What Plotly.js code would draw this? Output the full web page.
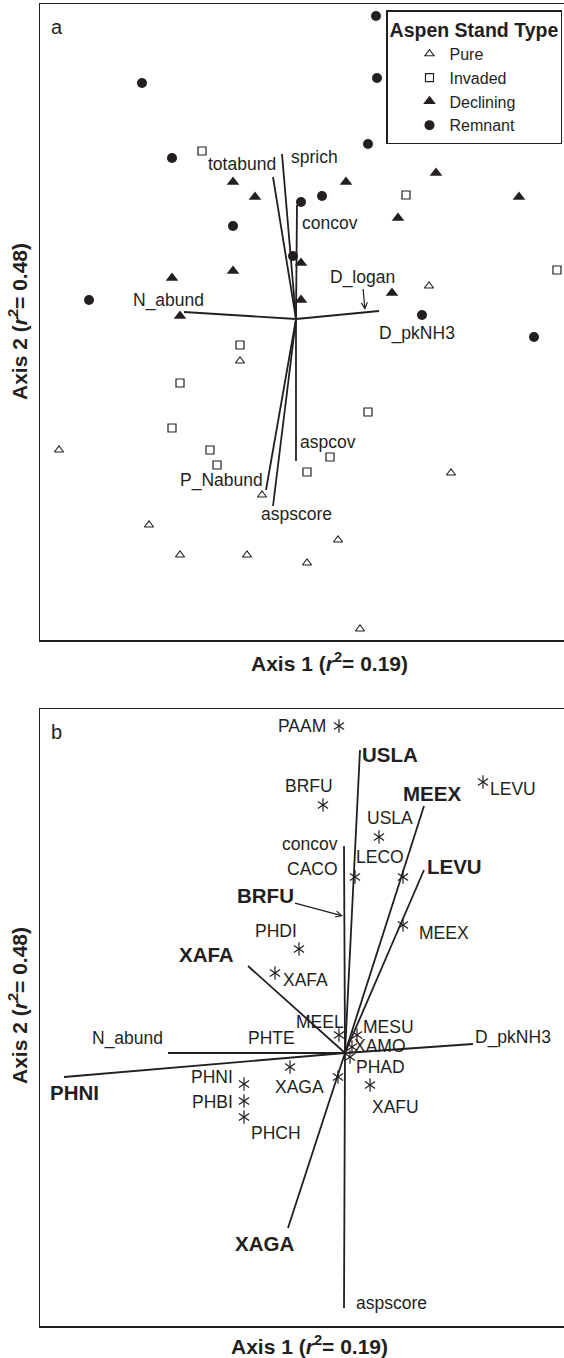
<!DOCTYPE html>
<html><head><meta charset="utf-8">
<script src="https://cdn.plot.ly/plotly-3.0.1.min.js"></script>
<style>html,body{margin:0;padding:0;overflow:hidden;background:#fff}#chart{width:640px;height:1358px}</style>
</head><body><div id="chart"></div>
<script>
// ---------- Panel a: stand scores ----------
const pureX = [1.33, -0.56, -2.37, 1.55, -0.34, -1.47, 0.42, -1.16, -0.49, 0.11, 0.64];
const pureY = [0.33, -0.42, -1.31, -1.54, -1.76, -2.06, -2.21, -2.36, -2.36, -2.44, -3.10];
const invadedX = [-0.94, 1.10, 2.61, -0.56, -1.16, 0.72, -1.24, -0.86, -0.79, 0.34, 0.11];
const invadedY = [1.68, 1.24, 0.49, -0.26, -0.64, -0.93, -1.09, -1.31, -1.46, -1.38, -1.53];
const decliningX = [-0.63, -0.41, 0.50, 1.40, 2.23, 1.02, -0.63, -1.24, -1.16, 0.05, 0.05, 0.96];
const decliningY = [1.37, 1.22, 1.37, 1.46, 1.22, 1.01, 0.48, 0.41, 0.03, 0.56, 0.19, 0.26];
const remnantX = [-1.54, -1.24, 0.80, 0.81, 0.72, 0.26, 0.05, -0.63, -0.03, -2.07, 1.26, 2.38];
const remnantY = [2.36, 1.61, 3.03, 2.41, 1.75, 1.23, 1.17, 0.93, 0.63, 0.19, 0.04, -0.18];
const groupNames = ['Pure', 'Invaded', 'Declining', 'Remnant'];

// Panel a: environmental vectors (tips; origin = 0,0)
const envA = ['sprich', 'totabund', 'concov', 'N_abund', 'D_pkNH3', 'aspcov', 'P_Nabund', 'aspscore'];
const envAX = [-0.14, -0.23, 0.01, -1.12, 0.83, 0.00, -0.30, -0.23];
const envAY = [1.65, 1.42, 1.14, 0.07, 0.08, -1.42, -1.71, -1.87];
const dLoganX = 0.69, dLoganY = 0.09;

// ---------- Panel b: species ----------
const vecB = ['USLA', 'MEEX', 'LEVU', 'XAFA', 'PHNI', 'XAGA', 'concov', 'N_abund', 'D_pkNH3', 'aspscore'];
const vecBX = [0.15, 0.79, 0.79, -0.97, -2.81, -0.57, -0.01, -1.77, 1.28, -0.01];
const vecBY = [3.03, 2.47, 1.83, 0.87, -0.24, -1.75, 2.07, 0.00, 0.09, -2.55];
const brfuX = -0.02, brfuY = 1.37;

const species = ['PAAM', 'BRFU', 'LEVU', 'USLA', 'CACO', 'LECO', 'PHDI', 'XAFA', 'MEEX', 'MEEL',
                 'MESU', 'XAMO', 'PHTE', 'PHNI', 'PHBI', 'PHCH', 'XAGA', 'PHAD', 'XAFU'];
const speciesX = [-0.06, -0.22, 1.38, 0.34, 0.10, 0.58, -0.46, -0.70, 0.58, -0.06,
                  0.12, 0.07, -0.55, -1.01, -1.01, -1.01, -0.07, 0.05, 0.25];
const speciesY = [3.27, 2.48, 2.71, 2.16, 1.76, 1.76, 1.04, 0.80, 1.28, 0.18,
                  0.18, 0.06, -0.14, -0.31, -0.48, -0.64, -0.24, -0.04, -0.32];

// ---------- layout / style (positions of labels in px) ----------
const W = 640, H = 1358;
const INK = '#231f20';
const FONT = 'Liberation Sans, Arial, Helvetica, sans-serif';
const envAOff = [[32, -3], [-31, 13], [33, -18], [-16, 12], [38, -22], [32, 19], [-45, 10], [23, -8]];
const vecBBold = [1, 1, 1, 1, 1, 1, 0, 0, 0, 0];
const vecBOff = [[30, -4], [8, 13], [30, 4], [-42, 12], [10, -15], [-24, -15], [-34, 2], [-41, 15], [40, 7], [47, 5]];
const speciesOff = [[-37, 0], [-14, 19], [30, -7], [11, 19], [-43, 8], [-23, 20], [-23, 18], [30, -7], [41, -8], [-19, 13],
                    [31, 8], [28, 1], [-19, 29], [-32, 7], [-32, -1], [32, -16], [-39, -10], [30, -10], [25, -22]];

function vecLines(xs, ys) {
  const x = [], y = [];
  xs.forEach((v, i) => { x.push(0, v, null); y.push(0, ys[i], null); });
  return {x, y};
}
const la = vecLines(envAX, envAY);
const lb = vecLines(vecBX, vecBY);

const traces = [
  {type: 'scatter', mode: 'markers', name: groupNames[0], x: pureX, y: pureY, xaxis: 'x', yaxis: 'y',
   marker: {symbol: 'triangle-up-open', size: 8, color: INK, line: {width: 1.1, color: INK}}},
  {type: 'scatter', mode: 'markers', name: groupNames[1], x: invadedX, y: invadedY, xaxis: 'x', yaxis: 'y',
   marker: {symbol: 'square-open', size: 8, color: INK, line: {width: 1.2, color: INK}}},
  {type: 'scatter', mode: 'markers', name: groupNames[2], x: decliningX, y: decliningY, xaxis: 'x', yaxis: 'y',
   marker: {symbol: 'triangle-up', size: 11, color: INK}},
  {type: 'scatter', mode: 'markers', name: groupNames[3], x: remnantX, y: remnantY, xaxis: 'x', yaxis: 'y',
   marker: {symbol: 'circle', size: 10, color: INK}},
  {type: 'scatter', mode: 'lines', x: la.x, y: la.y, xaxis: 'x', yaxis: 'y', showlegend: false,
   line: {color: INK, width: 1.8}, hoverinfo: 'skip'},
  {type: 'scatter', mode: 'lines', x: lb.x, y: lb.y, xaxis: 'x2', yaxis: 'y2', showlegend: false,
   line: {color: INK, width: 1.8}, hoverinfo: 'skip'},
  {type: 'scatter', mode: 'markers', x: speciesX, y: speciesY, xaxis: 'x2', yaxis: 'y2', showlegend: false,
   marker: {symbol: 'y-up-open', size: 8.5, color: INK, line: {width: 1.2, color: INK}}, text: species},
  {type: 'scatter', mode: 'markers', x: speciesX, y: speciesY, xaxis: 'x2', yaxis: 'y2', showlegend: false,
   marker: {symbol: 'y-down-open', size: 8.5, color: INK, line: {width: 1.2, color: INK}}, text: species}
];

const regFont = {family: FONT, size: 17.5, color: INK};
const boldFont = {family: FONT, size: 20.5, color: INK, weight: 'bold'};
const ann = [];
envA.forEach((t, i) => ann.push({x: envAX[i], y: envAY[i], xref: 'x', yref: 'y', text: t, showarrow: false,
  xshift: envAOff[i][0], yshift: envAOff[i][1], font: regFont}));
ann.push({x: dLoganX, y: dLoganY, xref: 'x', yref: 'y', text: 'D_logan', showarrow: true,
  ax: -3, ay: -33, arrowhead: 5, arrowsize: 1, arrowwidth: 1.2, arrowcolor: INK, font: regFont});
vecB.forEach((t, i) => ann.push({x: vecBX[i], y: vecBY[i], xref: 'x2', yref: 'y2', text: t, showarrow: false,
  xshift: vecBOff[i][0], yshift: vecBOff[i][1], font: vecBBold[i] ? boldFont : regFont}));
ann.push({x: brfuX, y: brfuY, xref: 'x2', yref: 'y2', text: 'BRFU', showarrow: true,
  ax: -78, ay: -21, arrowhead: 5, arrowsize: 1, arrowwidth: 1.2, arrowcolor: INK, font: boldFont});
species.forEach((t, i) => ann.push({x: speciesX[i], y: speciesY[i], xref: 'x2', yref: 'y2', text: t, showarrow: false,
  xshift: speciesOff[i][0], yshift: speciesOff[i][1], font: regFont}));

// panel letters and axis titles
const titleFont = {family: FONT, size: 21, color: INK, weight: 'bold'};
function pap(px, py) { return {x: px / W, y: 1 - py / H, xref: 'paper', yref: 'paper', xanchor: 'center', yanchor: 'middle', showarrow: false}; }
const letterFont = {family: FONT, size: 20, color: INK};
ann.push(Object.assign(pap(49, 27), {text: 'a', xanchor: 'left', font: letterFont}));
ann.push(Object.assign(pap(49, 732), {text: 'b', xanchor: 'left', font: letterFont}));
const xTitle = 'Axis 1 (<i>r</i><sup>2</sup>= 0.19)';
const yTitle = 'Axis 2 (<i>r</i><sup>2</sup>= 0.48)';
ann.push(Object.assign(pap(329, 662), {text: xTitle, font: titleFont}));
ann.push(Object.assign(pap(309, 1345), {text: xTitle, font: titleFont}));
ann.push(Object.assign(pap(18, 322), {text: yTitle, textangle: -90, font: titleFont}));
ann.push(Object.assign(pap(18, 1006), {text: yTitle, textangle: -90, font: titleFont}));

const axBase = {showgrid: false, zeroline: false, showticklabels: false, ticks: '',
  showline: true, mirror: true, linecolor: INK, linewidth: 1.5, fixedrange: true};

const layout = {
  width: W, height: H,
  margin: {l: 0, r: 0, t: 0, b: 0},
  paper_bgcolor: '#fff', plot_bgcolor: '#fff',
  font: {family: FONT, color: INK},
  xaxis: Object.assign({}, axBase, {domain: [40 / W, 618 / W], range: [-2.56, 3.22], anchor: 'y'}),
  yaxis: Object.assign({}, axBase, {domain: [1 - 640 / H, 1 - 4 / H], range: [-3.21, 3.15], anchor: 'x'}),
  xaxis2: Object.assign({}, axBase, {domain: [40 / W, 578 / W], range: [-3.05, 2.33], anchor: 'y2'}),
  yaxis2: Object.assign({}, axBase, {domain: [1 - 1326 / H, 1 - 709 / H], range: [-2.73, 3.44], anchor: 'x2'}),
  showlegend: true,
  legend: {x: 386 / W, y: 1 - 10 / H, xanchor: 'left', yanchor: 'top',
    bgcolor: '#fff', bordercolor: INK, borderwidth: 1.5,
    font: {family: FONT, size: 16, color: INK},
    title: {text: 'Aspen Stand Type', side: 'top center', font: {family: FONT, size: 19.5, color: INK, weight: 'bold'}},
    indentation: 22, tracegroupgap: 0, itemclick: false, itemdoubleclick: false},
  annotations: ann
};

Plotly.newPlot('chart', traces, layout, {displayModeBar: false, staticPlot: true});
</script></body></html>
